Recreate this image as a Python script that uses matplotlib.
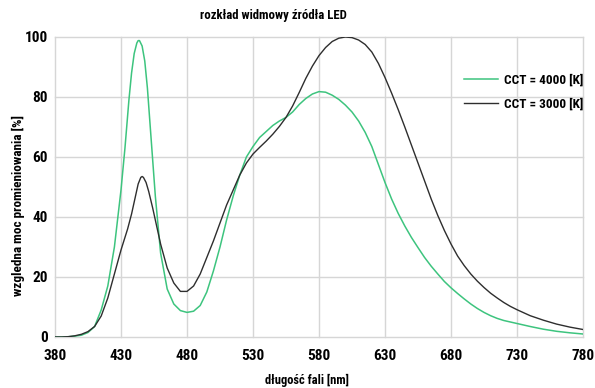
import matplotlib
matplotlib.use("Agg")
import matplotlib.pyplot as plt

plt.rcParams['font.family'] = ['Roboto Condensed', 'DejaVu Sans']
plt.rcParams['font.weight'] = 'bold'

# wavelength [nm] and relative power [%]
wl_4000 = [380, 385, 390, 395, 400, 405, 410, 415, 420, 425, 430, 433, 436, 438, 440,
           442, 443, 444, 446, 448, 450, 453, 456, 460, 465, 470, 475, 480, 485, 490,
           495, 500, 505, 510, 515, 520, 525, 530, 535, 540, 545, 550, 555, 560, 565,
           570, 575, 580, 585, 590, 595, 600, 605, 610, 615, 620, 625, 630, 635, 640,
           645, 650, 655, 660, 665, 670, 675, 680, 685, 690, 695, 700, 705, 710, 715,
           720, 725, 730, 740, 750, 760, 770, 780]
cct_4000 = [0, 0, 0.1, 0.3, 0.6, 1.5, 3.5, 9, 17, 30, 49, 63, 79, 88, 94.5,
            98, 98.8, 98.8, 97, 92, 83, 65, 47, 28, 16, 11, 8.8, 8.2, 8.6, 10.5,
            15, 22, 30, 39, 47, 54, 60, 63.5, 66.5, 68.5, 70.5, 72, 73.2, 75, 77.5,
            79.5, 81, 81.8, 81.6, 80.6, 79.2, 77.3, 75, 72, 68.2, 63.5, 57.5, 51.5, 46, 41.2,
            37, 33.2, 29.8, 26.5, 23.6, 21, 18.5, 16.4, 14.5, 12.7, 11, 9.5, 8.2, 7.1, 6.2,
            5.5, 5, 4.5, 3.5, 2.6, 1.9, 1.4, 1]

wl_3000 = [380, 385, 390, 395, 400, 405, 410, 415, 420, 425, 430, 435, 438, 441, 443,
           445, 446, 447, 449, 451, 454, 457, 460, 465, 470, 475, 480, 485, 490, 495,
           500, 505, 510, 515, 520, 525, 530, 535, 540, 545, 550, 555, 560, 565, 570,
           575, 580, 585, 590, 595, 600, 605, 610, 615, 620, 625, 630, 635, 640, 645,
           650, 655, 660, 665, 670, 675, 680, 685, 690, 695, 700, 705, 710, 715, 720,
           725, 730, 740, 750, 760, 770, 780]
cct_3000 = [0, 0, 0.1, 0.4, 0.9, 1.8, 3.5, 7, 13, 21, 29, 36, 41, 47, 51,
            53.2, 53.5, 53.2, 51.5, 48.5, 43, 37, 31, 23, 18, 15.2, 15.2, 17, 21, 26.5,
            32, 38, 44, 49, 54, 58, 61, 63.2, 65.3, 67.6, 70.2, 73.2, 77, 81.5, 86.2,
            90.3, 93.8, 96.5, 98.5, 99.6, 100, 99.8, 99, 97.5, 95, 91.2, 86.5, 81.3, 75.8, 70,
            64, 58, 52, 46, 40.5, 35.5, 31, 27, 23.8, 21, 18.6, 16.5, 14.6, 13, 11.5,
            10.2, 9.1, 7.1, 5.6, 4.3, 3.3, 2.5]

x_ticks = [380, 430, 480, 530, 580, 630, 680, 730, 780]
y_ticks = [0, 20, 40, 60, 80, 100]

fig = plt.figure(figsize=(5.95, 3.88), dpi=100)
ax = fig.add_axes([55 / 595, 51 / 388, 528 / 595, 300 / 388])

ax.plot(wl_4000, cct_4000, color='#3dc47e', lw=1.1, label='CCT = 4000 [K]')
ax.plot(wl_3000, cct_3000, color='#2e2e2e', lw=1.0, label='CCT = 3000 [K]')

ax.set_xlim(380, 780)
ax.set_ylim(0, 100)
ax.set_xticks(x_ticks)
ax.set_yticks(y_ticks)
ax.tick_params(length=0, labelsize=11, pad=9)
ax.tick_params(axis='y', pad=5)
for s in ax.spines.values():
    s.set_visible(False)
ax.grid(True, color='#d6d6d6', lw=1)
ax.set_axisbelow(True)
for gl in ax.get_xgridlines() + ax.get_ygridlines():
    gl.set_clip_on(False)

fig.text(307 / 595, 1 - 380 / 388, 'długość fali [nm]', fontsize=9,
         fontweight='bold', ha='center', va='center')
fig.text(18 / 595, 1 - 206 / 388, 'wzgledna moc promieniowania [%]', fontsize=9.5,
         fontweight='bold', ha='center', va='center', rotation=90)
fig.text(273 / 595, 1 - 15 / 388, 'rozkład widmowy źródła LED', fontsize=9.2,
         fontweight='bold', ha='center', va='center')

ax.legend(loc='upper left', bbox_to_anchor=(452 / 595, 1 - 62 / 388),
          bbox_transform=fig.transFigure, frameon=False, fontsize=9.5,
          handlelength=2.6, handletextpad=0.45, labelspacing=0.85)

fig.savefig('out.png', dpi=100)
